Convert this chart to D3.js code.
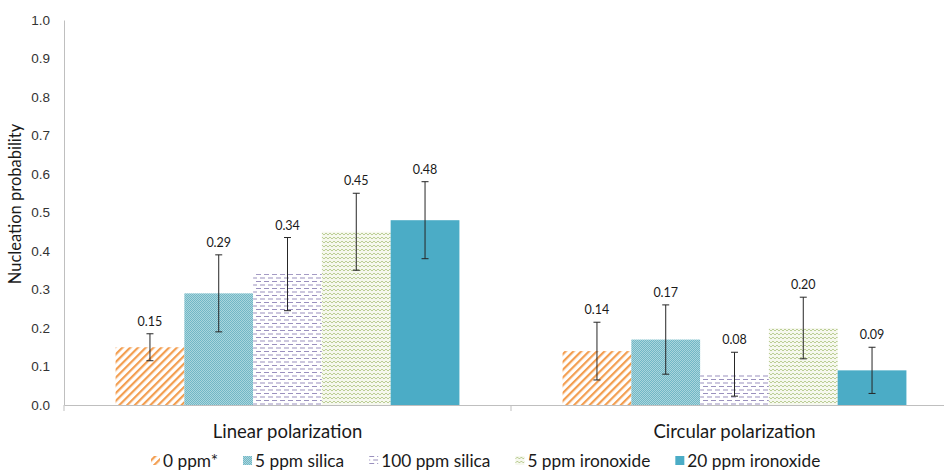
<!DOCTYPE html>
<html>
<head>
<meta charset="utf-8">
<script src="https://cdn.jsdelivr.net/npm/d3@7"></script>
<style>
  html, body { margin: 0; padding: 0; background: #fff; }
  svg { display: block; font-family: Lato, "Open Sans", sans-serif; }
</style>
</head>
<body>
<svg id="chart" width="944" height="471"></svg>
<script>
// Nucleation probability by polarization and additive
const categories = ["Linear polarization", "Circular polarization"];
const seriesNames = ["0 ppm*", "5 ppm silica", "100 ppm silica", "5 ppm ironoxide", "20 ppm ironoxide"];
const linearValues = [0.15, 0.29, 0.34, 0.45, 0.48];
const circularValues = [0.14, 0.17, 0.08, 0.20, 0.09];
const linearErrors = [0.035, 0.10, 0.095, 0.10, 0.10];
const circularErrors = [0.075, 0.09, 0.057, 0.08, 0.06];
const yTicks = [0, 0.1, 0.2, 0.3, 0.4, 0.5, 0.6, 0.7, 0.8, 0.9, 1.0];

const rows = categories.map((c, ci) => ({
  category: c,
  bars: seriesNames.map((s, si) => ({
    series: s,
    value: (ci === 0 ? linearValues : circularValues)[si],
    err: (ci === 0 ? linearErrors : circularErrors)[si]
  }))
}));

const svg = d3.select("#chart");
const defs = svg.append("defs");

// Fill patterns for each series
function stripes() {
  const p = defs.append("pattern").attr("id", "pat0").attr("patternUnits", "userSpaceOnUse")
    .attr("width", 5.5).attr("height", 5.5).attr("patternTransform", "rotate(45)");
  p.append("rect").attr("width", 5.5).attr("height", 5.5).attr("fill", "#fff");
  p.append("rect").attr("x", 0).attr("width", 2.2).attr("height", 5.5).attr("fill", "#F39E50");
}
function dots() {
  const p = defs.append("pattern").attr("id", "pat1").attr("patternUnits", "userSpaceOnUse")
    .attr("width", 2).attr("height", 2);
  p.append("rect").attr("width", 2).attr("height", 2).attr("fill", "#AAD6DD");
  p.append("rect").attr("width", 1).attr("height", 1).attr("fill", "#72B7C6");
  p.append("rect").attr("x", 1).attr("y", 1).attr("width", 1).attr("height", 1).attr("fill", "#72B7C6");
}
function dashes() {
  const p = defs.append("pattern").attr("id", "pat2").attr("patternUnits", "userSpaceOnUse")
    .attr("width", 8).attr("height", 7);
  p.append("rect").attr("width", 8).attr("height", 7).attr("fill", "#fff");
  p.append("rect").attr("x", 0).attr("y", 1).attr("width", 5).attr("height", 1).attr("fill", "#9A90BE");
  p.append("rect").attr("x", 4).attr("y", 4.5).attr("width", 5).attr("height", 1).attr("fill", "#9A90BE");
  p.append("rect").attr("x", -4).attr("y", 4.5).attr("width", 5).attr("height", 1).attr("fill", "#9A90BE");
}
function zigzag() {
  const p = defs.append("pattern").attr("id", "pat3").attr("patternUnits", "userSpaceOnUse")
    .attr("width", 4).attr("height", 4);
  p.append("rect").attr("width", 4).attr("height", 4).attr("fill", "#F6F8EE");
  p.append("path").attr("d", "M0,3 L2,1 L4,3").attr("fill", "none")
    .attr("stroke", "#B5C98C").attr("stroke-width", 0.9);
}
stripes(); dots(); dashes(); zigzag();
const fills = ["url(#pat0)", "url(#pat1)", "url(#pat2)", "url(#pat3)", "#4BACC6"];
const color = d3.scaleOrdinal().domain(seriesNames).range(fills);

const x0 = d3.scaleBand().domain(categories).range([64, 958]).paddingInner(0).paddingOuter(0);
const x1 = d3.scaleBand().domain(seriesNames).range([0, x0.bandwidth()]).paddingInner(0).paddingOuter(0.75);
const y = d3.scaleLinear().domain([0, 1]).range([405, 20]);

// Y axis
const yAxis = svg.append("g").attr("transform", "translate(64,0)")
  .call(d3.axisLeft(y).tickValues(yTicks).tickFormat(d3.format(".1f")).tickSize(0).tickPadding(14));
yAxis.select(".domain").attr("stroke", "#BFBFBF");
yAxis.selectAll("text").attr("font-size", 13.5).attr("fill", "#333");

// Bars
const groups = svg.append("g").selectAll("g").data(rows).join("g")
  .attr("transform", d => `translate(${x0(d.category)},0)`);

groups.selectAll("rect").data(d => d.bars).join("rect")
  .attr("x", d => x1(d.series))
  .attr("y", d => y(d.value))
  .attr("width", x1.bandwidth())
  .attr("height", d => y(0) - y(d.value))
  .attr("fill", d => color(d.series));

// Error bars
const eb = groups.selectAll("g.err").data(d => d.bars).join("g").attr("class", "err")
  .attr("stroke", "#262626").attr("stroke-width", 1);
const cx = d => x1(d.series) + x1.bandwidth() / 2;
eb.append("line").attr("x1", cx).attr("x2", cx)
  .attr("y1", d => y(d.value + d.err)).attr("y2", d => y(d.value - d.err));
eb.append("line").attr("x1", d => cx(d) - 3.5).attr("x2", d => cx(d) + 3.5)
  .attr("y1", d => y(d.value + d.err)).attr("y2", d => y(d.value + d.err));
eb.append("line").attr("x1", d => cx(d) - 3.5).attr("x2", d => cx(d) + 3.5)
  .attr("y1", d => y(d.value - d.err)).attr("y2", d => y(d.value - d.err));

// Value labels
groups.selectAll("text.val").data(d => d.bars).join("text").attr("class", "val")
  .attr("x", cx)
  .attr("y", d => y(d.value + d.err) - 8)
  .attr("text-anchor", "middle")
  .attr("font-size", 12.5)
  .attr("fill", "#1a1a1a")
  .text(d => d.value.toFixed(2));

// X axis
const xAxis = svg.append("g").attr("transform", `translate(0,${y(0)})`)
  .call(d3.axisBottom(x0).tickSize(0).tickFormat(""));
xAxis.select(".domain").attr("stroke", "#BFBFBF").attr("stroke-width", 1.2);
xAxis.selectAll(".tick").remove();
const boundaries = [x0.range()[0], ...categories.slice(1).map(c => x0(c))];
xAxis.selectAll("line.sep").data(boundaries).join("line").attr("class", "sep")
  .attr("x1", d => d).attr("x2", d => d).attr("y1", 0).attr("y2", 6)
  .attr("stroke", "#BFBFBF");
svg.append("g").selectAll("text").data(categories).join("text")
  .attr("x", d => x0(d) + x0.bandwidth() / 2)
  .attr("y", 438)
  .attr("text-anchor", "middle")
  .attr("font-size", 18.5)
  .attr("fill", "#1a1a1a")
  .text(d => d);

// Y axis title
svg.append("text")
  .attr("transform", "translate(21,204) rotate(-90)")
  .attr("text-anchor", "middle")
  .attr("font-size", 16.5)
  .attr("fill", "#1a1a1a")
  .text("Nucleation probability");

// Legend
const legend = svg.append("g").attr("class", "legend");
let lx = 151;
seriesNames.forEach(s => {
  const g = legend.append("g").attr("transform", `translate(${lx},0)`);
  g.append("rect").attr("x", 0).attr("y", 456).attr("width", 9).attr("height", 9).attr("fill", color(s));
  const t = g.append("text").attr("x", 12).attr("y", 467).attr("font-size", 17.3)
    .attr("fill", "#1a1a1a").text(s);
  lx += 12 + t.node().getComputedTextLength() + 25;
});
</script>
</body>
</html>
